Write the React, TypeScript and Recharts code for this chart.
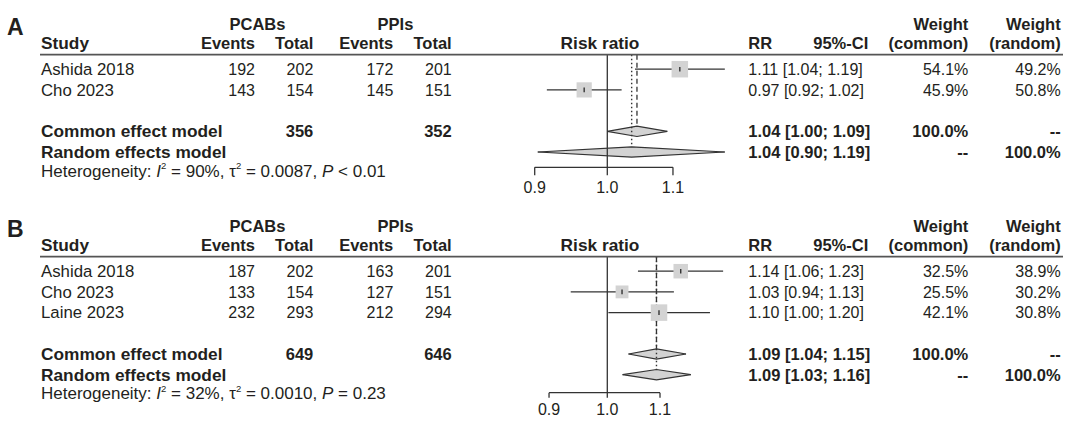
import React from "react"
import { ComposedChart, XAxis, YAxis, Scatter, Area, ReferenceLine } from "recharts"

const FONT = "'Liberation Sans', Arial, Helvetica, sans-serif"
const INK = "#231f20"
const LINE = "#333333"
const BOX = "#d3d3d3"

// panel A
const studiesA = ["Ashida 2018", "Cho 2023"]
const pcabEventsA = [192, 143]
const pcabTotalA = [202, 154]
const ppiEventsA = [172, 145]
const ppiTotalA = [201, 151]
const rrA = [1.111, 0.967]
const lowerA = [1.041, 0.916]
const upperA = [1.186, 1.021]
const weightCommonA = [54.1, 45.9]
const weightRandomA = [49.2, 50.8]
const pooledTotalsA = [356, 352]
const commonA = [1.044, 1.0, 1.091] // estimate, lower, upper
const randomA = [1.036, 0.904, 1.186]
const hetA = ["90", "0.0087", "< 0.01"]

// panel B
const studiesB = ["Ashida 2018", "Cho 2023", "Laine 2023"]
const pcabEventsB = [187, 133, 232]
const pcabTotalB = [202, 154, 293]
const ppiEventsB = [163, 127, 212]
const ppiTotalB = [201, 151, 294]
const rrB = [1.142, 1.027, 1.098]
const lowerB = [1.057, 0.936, 1.002]
const upperB = [1.233, 1.128, 1.204]
const weightCommonB = [32.5, 25.5, 42.1]
const weightRandomB = [38.9, 30.2, 30.8]
const pooledTotalsB = [649, 646]
const commonB = [1.093, 1.039, 1.153]
const randomB = [1.093, 1.028, 1.163]
const hetB = ["32", "0.0010", "= 0.23"]

const axisTicks = [0.9, 1.0, 1.1]

// layout
const ROW = 20.7
const BASE = 48.5
const TOP_ROW = 0.3
const X_ONE = 607.3
const MAX_BOX = 16.5
const DIAMOND_HALF = 0.25
const FS = 16 // numbers
const FSL = 16.8 // regular labels
const FSB = 16.5 // bold numbers / headers
const FSBL = 17.3 // bold labels

const fmt2 = (v: number) => v.toFixed(2)
const ciText = (e: number, l: number, u: number) => `${fmt2(e)} [${fmt2(l)}; ${fmt2(u)}]`

const BoxShape = (props: any) => {
  const { cx, cy, payload } = props
  const s = payload.side
  return (
    <g>
      <rect x={cx - s / 2} y={cy - s / 2} width={s} height={s} fill={BOX} />
      <line x1={cx} x2={cx} y1={cy - 2.3} y2={cy + 2.3} stroke={LINE} strokeWidth={1.4} />
    </g>
  )
}

function ForestPanel(p: any) {
  const n = p.studies.length
  const rowY = (r: number) => BASE + r * ROW
  const commonRow = n + 2
  const randomRow = n + 3
  const underlineY = rowY(TOP_ROW)
  const axisY = rowY(p.axisRow)
  const chartH = axisY + 36
  const left = X_ONE + p.pxPerLog * Math.log(p.xDomain[0])
  const right = X_ONE + p.pxPerLog * Math.log(p.xDomain[1])
  const maxW = Math.max(...p.weightCommon)
  const boxes = p.studies.map((_: string, i: number) => ({
    x: p.rr[i],
    y: i + 1,
    side: MAX_BOX * Math.sqrt(p.weightCommon[i] / maxW),
  }))
  const diamond = (est: number[], row: number) => [
    { x: est[1], band: [row, row] },
    { x: est[0], band: [row - DIAMOND_HALF, row + DIAMOND_HALF] },
    { x: est[2], band: [row, row] },
  ]
  const tb = (r: number) => rowY(r) + 5.8
  const hetY = rowY(n + 4) + 4

  return (
    <div style={{ position: "absolute", left: 0, top: p.top, width: 1080, height: p.height }}>
      <div style={{ position: "absolute", left: 0, top: 0 }}>
        <ComposedChart
          width={1080}
          height={chartH}
          margin={{ top: underlineY, right: 1080 - right, bottom: 0, left }}
        >
          <XAxis
            type="number"
            dataKey="x"
            scale="log"
            domain={p.xDomain}
            allowDataOverflow
            ticks={axisTicks}
            interval={0}
            tickFormatter={(v: number) => v.toFixed(1)}
            axisLine={false}
            tickLine={{ stroke: LINE, strokeWidth: 1.3 }}
            tickSize={p.tickLen}
            tickMargin={6}
            height={chartH - axisY}
            tick={{ fill: INK, fontSize: FS, fontFamily: FONT }}
          />
          <YAxis type="number" dataKey="y" domain={[TOP_ROW, p.axisRow]} reversed hide allowDataOverflow />
          <ReferenceLine x={1} stroke={LINE} strokeWidth={1.3} ifOverflow="visible" />
          <ReferenceLine
            segment={[{ x: axisTicks[0], y: p.axisRow }, { x: axisTicks[axisTicks.length - 1], y: p.axisRow }]}
            stroke={LINE}
            strokeWidth={1.3}
            ifOverflow="visible"
          />
          <ReferenceLine
            segment={[{ x: p.random[0], y: TOP_ROW }, { x: p.random[0], y: randomRow - DIAMOND_HALF }]}
            stroke={LINE}
            strokeWidth={1.4}
            strokeDasharray="1.5 2.5"
            ifOverflow="visible"
          />
          <ReferenceLine
            segment={[{ x: p.common[0], y: TOP_ROW }, { x: p.common[0], y: commonRow - DIAMOND_HALF }]}
            stroke={LINE}
            strokeWidth={1.3}
            strokeDasharray="5 3"
            ifOverflow="visible"
          />
          {p.studies.map((s: string, i: number) => (
            <ReferenceLine
              key={s}
              segment={[{ x: p.lower[i], y: i + 1 }, { x: p.upper[i], y: i + 1 }]}
              stroke={LINE}
              strokeWidth={1.3}
              ifOverflow="visible"
            />
          ))}
          <Area
            data={diamond(p.common, commonRow)}
            dataKey="band"
            type="linear"
            fill={BOX}
            fillOpacity={1}
            stroke={LINE}
            strokeWidth={1.2}
            dot={false}
            activeDot={false}
            isAnimationActive={false}
          />
          <Area
            data={diamond(p.random, randomRow)}
            dataKey="band"
            type="linear"
            fill={BOX}
            fillOpacity={1}
            stroke={LINE}
            strokeWidth={1.2}
            dot={false}
            activeDot={false}
            isAnimationActive={false}
          />
          <Scatter data={boxes} shape={BoxShape} isAnimationActive={false} />
        </ComposedChart>
      </div>
      <svg
        width={1080}
        height={p.height}
        style={{ position: "absolute", left: 0, top: 0, pointerEvents: "none" }}
        fontFamily={FONT}
        fill={INK}
      >
        <text x={7} y={35} fontSize={23} fontWeight="bold">{p.label}</text>
        <g fontSize={FSB} fontWeight="bold">
          <text x={257.5} y={30} textAnchor="middle">PCABs</text>
          <text x={395.5} y={30} textAnchor="middle">PPIs</text>
          <text x={968.3} y={30} textAnchor="end">Weight</text>
          <text x={1060.7} y={30} textAnchor="end">Weight</text>
          <text x={41} y={49} fontSize={FSBL}>Study</text>
          <text x={255} y={49} textAnchor="end">Events</text>
          <text x={313.3} y={49} textAnchor="end">Total</text>
          <text x={393.3} y={49} textAnchor="end">Events</text>
          <text x={451.7} y={49} textAnchor="end">Total</text>
          <text x={600} y={49} textAnchor="middle" fontSize={FSBL}>Risk ratio</text>
          <text x={748.3} y={49}>RR</text>
          <text x={868.3} y={49} textAnchor="end">95%-CI</text>
          <text x={968.3} y={49} textAnchor="end">(common)</text>
          <text x={1060.7} y={49} textAnchor="end">(random)</text>
        </g>
        <line x1={40} x2={1063} y1={underlineY} y2={underlineY} stroke="#555" strokeWidth={1.8} />
        <g fontSize={FS}>
          {p.studies.map((s: string, i: number) => (
            <g key={s}>
              <text x={41} y={tb(i + 1)} fontSize={FSL}>{s}</text>
              <text x={255} y={tb(i + 1)} textAnchor="end">{p.pcabEvents[i]}</text>
              <text x={313.3} y={tb(i + 1)} textAnchor="end">{p.pcabTotal[i]}</text>
              <text x={393.3} y={tb(i + 1)} textAnchor="end">{p.ppiEvents[i]}</text>
              <text x={451.7} y={tb(i + 1)} textAnchor="end">{p.ppiTotal[i]}</text>
              <text x={748.3} y={tb(i + 1)}>{ciText(p.rr[i], p.lower[i], p.upper[i])}</text>
              <text x={968.3} y={tb(i + 1)} textAnchor="end">{p.weightCommon[i].toFixed(1)}%</text>
              <text x={1060.7} y={tb(i + 1)} textAnchor="end">{p.weightRandom[i].toFixed(1)}%</text>
            </g>
          ))}
        </g>
        <g fontSize={FSB} fontWeight="bold">
          <text x={41} y={tb(commonRow)} fontSize={FSBL}>Common effect model</text>
          <text x={313.3} y={tb(commonRow)} textAnchor="end">{p.totals[0]}</text>
          <text x={451.7} y={tb(commonRow)} textAnchor="end">{p.totals[1]}</text>
          <text x={748.3} y={tb(commonRow)}>{ciText(p.common[0], p.common[1], p.common[2])}</text>
          <text x={968.3} y={tb(commonRow)} textAnchor="end">100.0%</text>
          <text x={1060.7} y={tb(commonRow)} textAnchor="end">--</text>
          <text x={41} y={tb(randomRow)} fontSize={FSBL}>Random effects model</text>
          <text x={748.3} y={tb(randomRow)}>{ciText(p.random[0], p.random[1], p.random[2])}</text>
          <text x={968.3} y={tb(randomRow)} textAnchor="end">--</text>
          <text x={1060.7} y={tb(randomRow)} textAnchor="end">100.0%</text>
        </g>
        <text x={41} y={hetY} fontSize={17}>
          {"Heterogeneity: "}
          <tspan fontStyle="italic">I</tspan>
          <tspan fontSize={9.5} dy={-7.5}>2</tspan>
          <tspan dy={7.5}>{` = ${p.het[0]}%, \u03c4`}</tspan>
          <tspan fontSize={9.5} dy={-7.5}>2</tspan>
          <tspan dy={7.5}>{` = ${p.het[1]}, `}</tspan>
          <tspan fontStyle="italic">P</tspan>
          <tspan>{` ${p.het[2]}`}</tspan>
        </text>
      </svg>
    </div>
  )
}

export default function App() {
  return (
    <div style={{ position: "absolute", left: 0, top: 0, width: 1080, height: 423, background: "#fff", fontFamily: FONT }}>
      <ForestPanel
        label="A"
        top={0}
        height={202}
        studies={studiesA}
        pcabEvents={pcabEventsA}
        pcabTotal={pcabTotalA}
        ppiEvents={ppiEventsA}
        ppiTotal={ppiTotalA}
        rr={rrA}
        lower={lowerA}
        upper={upperA}
        weightCommon={weightCommonA}
        weightRandom={weightRandomA}
        totals={pooledTotalsA}
        common={commonA}
        random={randomA}
        het={hetA}
        pxPerLog={689}
        xDomain={[0.88, 1.22]}
        axisRow={5.74}
        tickLen={8}
      />
      <ForestPanel
        label="B"
        top={202}
        height={221}
        studies={studiesB}
        pcabEvents={pcabEventsB}
        pcabTotal={pcabTotalB}
        ppiEvents={ppiEventsB}
        ppiTotal={ppiTotalB}
        rr={rrB}
        lower={lowerB}
        upper={upperB}
        weightCommon={weightCommonB}
        weightRandom={weightRandomB}
        totals={pooledTotalsB}
        common={commonB}
        random={randomB}
        het={hetB}
        pxPerLog={553}
        xDomain={[0.88, 1.25]}
        axisRow={6.87}
        tickLen={5}
      />
    </div>
  )
}
